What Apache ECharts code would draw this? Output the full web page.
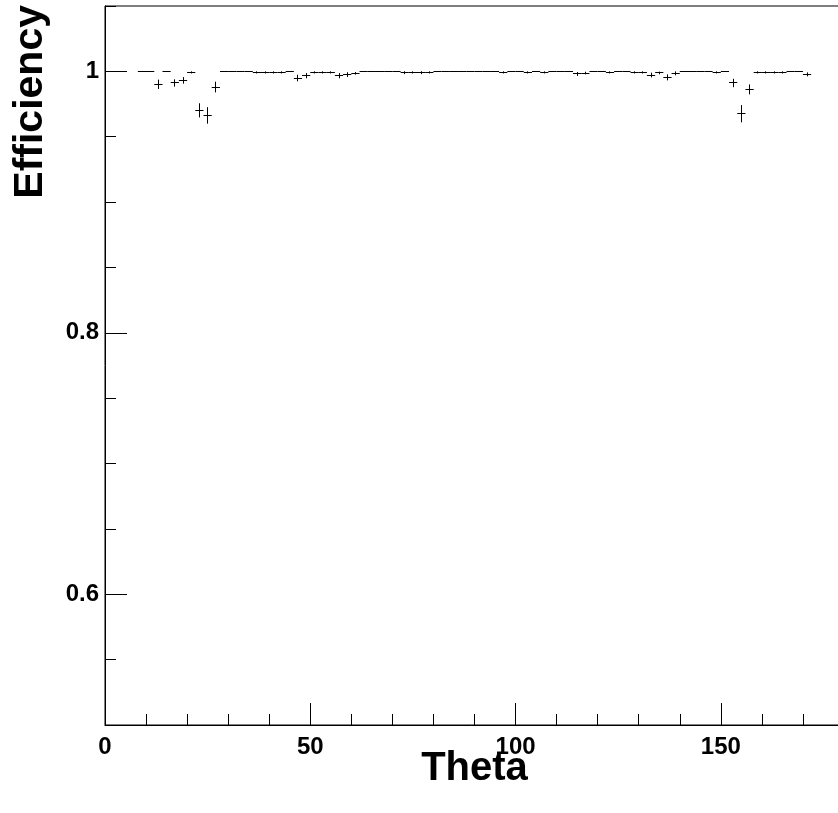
<!DOCTYPE html>
<html>
<head>
<meta charset="utf-8">
<script src="https://cdn.jsdelivr.net/npm/echarts@6/dist/echarts.min.js"></script>
<style>
html,body{margin:0;padding:0;background:#fff;}
#chart{width:838px;height:813px;}
</style>
</head>
<body>
<div id="chart"></div>
<script>
// ---- data ----
const binWidth = 2;
const theta = [9,11,13,15,17,19,21,23,25,27,29,31,33,35,37,39,41,43,45,47,49,51,53,55,57,59,61,
  63,65,67,69,71,73,75,77,79,81,83,85,87,89,91,93,95,97,99,101,103,105,107,109,111,113,115,117,119,
  121,123,125,127,129,131,133,135,137,139,141,143,145,147,149,151,153,155,157,159,161,163,165,167,169,171];
const efficiency = [1,1,0.9901,1,0.9911,0.9931,0.9992,0.9702,0.9663,0.9880,1,1,1,1,0.9992,0.9992,0.9992,0.9992,1,0.9949,0.9967,0.9992,0.9992,0.9992,0.9967,0.9975,0.9985,
  1,1,1,1,1,0.9990,0.9992,0.9990,0.9992,1,1,1,1,1,1,1,1,0.9992,1,1,0.9992,1,0.9992,1,1,1,0.9980,0.9987,1,
  1,0.9992,1,1,0.9992,0.9992,0.9972,0.9988,0.9954,0.9985,1,1,1,1,0.9992,1,0.9911,0.9676,0.9862,0.9992,0.9992,0.9992,0.9992,1,1,0.9977];
const errors = [0,0,0.0036,0,0.0028,0.0025,0.0008,0.0054,0.0063,0.0041,0,0,0,0,0.0008,0.0008,0.0008,0.0008,0,0.0025,0.0020,0.0008,0.0008,0.0008,0.0020,0.0018,0.0010,
  0,0,0,0,0,0.0011,0.0008,0.0011,0.0008,0,0,0,0,0,0,0,0,0.0008,0,0,0.0008,0,0.0008,0,0,0,0.0015,0.0010,0,
  0,0.0008,0,0,0.0008,0.0008,0.0018,0.0010,0.0023,0.0015,0,0,0,0,0.0008,0,0.0032,0.0066,0.0038,0.0008,0.0008,0.0008,0.0008,0,0,0.0015];
const xTickLabels = [0, 50, 100, 150];
const yTickLabels = [0.6, 0.8, 1];
const xTitle = 'Theta';
const yTitle = 'Efficiency';

const seriesData = theta.map((t, i) => [t, efficiency[i], errors[i]]);

const FONT = '"Liberation Sans", Arial, Helvetica, sans-serif';
const chart = echarts.init(document.getElementById('chart'), null, {renderer: 'canvas'});

function crisp(v) { return Math.round(v - 0.5) + 0.5; }

const option = {
  animation: false,
  backgroundColor: '#fff',
  grid: {left: 105, width: 739, top: 6, height: 719, outerBoundsMode: 'none', containLabel: false,
         show: true, borderColor: '#000', borderWidth: 1, backgroundColor: 'transparent'},
  xAxis: [
    {
      type: 'value', position: 'bottom', min: 0, max: 180, interval: 10,
      axisLine: {show: true, onZero: false, lineStyle: {color: '#000', width: 1}},
      axisTick: {show: true, inside: true, length: 11, lineStyle: {color: '#000', width: 1}},
      axisLabel: {show: true, customValues: xTickLabels, margin: 10, color: '#000', fontFamily: FONT, fontWeight: 'bold', fontSize: 24},
      splitLine: {show: false},
      name: xTitle, nameLocation: 'middle', nameGap: 24, nameMoveOverlap: false,
      nameTextStyle: {color: '#000', fontFamily: FONT, fontWeight: 'bold', fontSize: 40, verticalAlign: 'top'}
    },
    {
      type: 'value', position: 'bottom', min: 0, max: 180,
      axisLine: {show: false},
      axisTick: {show: true, inside: true, length: 22, customValues: xTickLabels, lineStyle: {color: '#000', width: 1}},
      axisLabel: {show: false},
      splitLine: {show: false}
    }
  ],
  yAxis: [
    {
      type: 'value', position: 'left', min: 0.5, max: 1.05, interval: 0.05,
      axisLine: {show: true, onZero: false, lineStyle: {color: '#000', width: 1}},
      axisTick: {show: true, inside: true, length: 11, lineStyle: {color: '#000', width: 1}},
      axisLabel: {show: true, customValues: yTickLabels, margin: 6, color: '#000', fontFamily: FONT, fontWeight: 'bold', fontSize: 24},
      splitLine: {show: false}
    },
    {
      type: 'value', position: 'left', min: 0.5, max: 1.05,
      axisLine: {show: false},
      axisTick: {show: true, inside: true, length: 22, customValues: yTickLabels, lineStyle: {color: '#000', width: 1}},
      axisLabel: {show: false},
      splitLine: {show: false}
    }
  ],
  graphic: [
    {
      type: 'text', x: 31, y: 5, rotation: Math.PI / 2,
      style: {text: yTitle, fill: '#000', font: 'bold 41px ' + FONT, align: 'right', verticalAlign: 'middle'}
    }
  ],
  series: [
    {
      type: 'custom', xAxisIndex: 0, yAxisIndex: 0, clip: false,
      data: seriesData,
      renderItem: function (params, api) {
        const x = api.value(0), y = api.value(1), e = api.value(2);
        const pL = api.coord([x - binWidth / 2, y]);
        const pR = api.coord([x + binWidth / 2, y]);
        const yy = crisp(pL[1]);
        const children = [{
          type: 'line',
          shape: {x1: pL[0], y1: yy, x2: pR[0], y2: yy},
          style: {stroke: '#000', lineWidth: 1}
        }];
        if (e > 0) {
          const pT = api.coord([x, y + e]);
          const pB = api.coord([x, y - e]);
          const xx = crisp(pT[0]);
          children.push({
            type: 'line',
            shape: {x1: xx, y1: pT[1], x2: xx, y2: pB[1]},
            style: {stroke: '#000', lineWidth: 1}
          });
        }
        return {type: 'group', children: children};
      }
    }
  ]
};
chart.setOption(option);
</script>
</body>
</html>
